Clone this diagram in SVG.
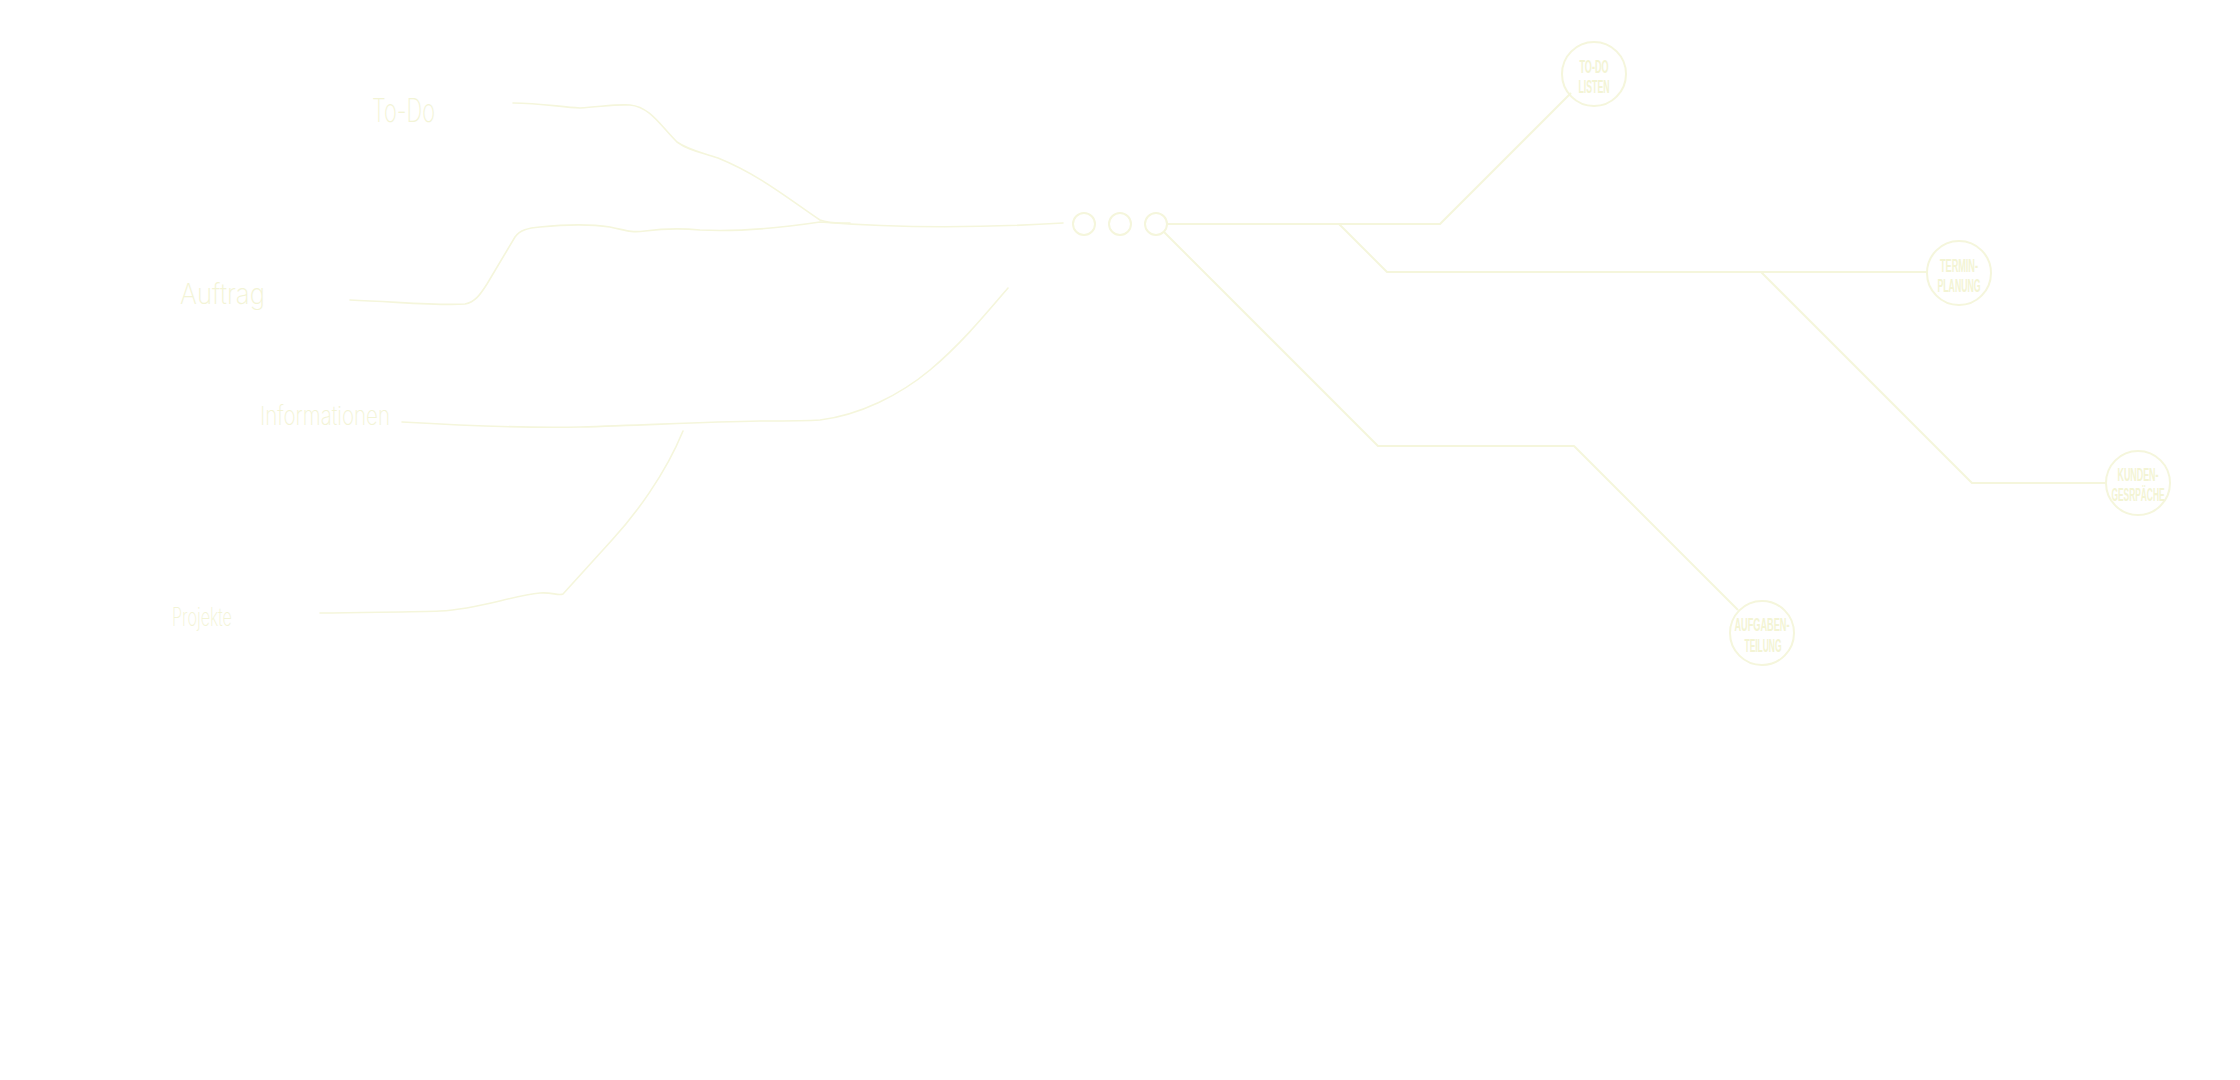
<svg xmlns="http://www.w3.org/2000/svg" width="2240" height="1080" viewBox="0 0 2240 1080">
<style>
.bg{fill:#ffffff}
.ln{fill:none;stroke:#f5f6dc;stroke-width:2;stroke-linejoin:round}
.hand{fill:none;stroke:#f5f6dc;stroke-width:1.6;stroke-linecap:round;stroke-linejoin:round}
.ring{fill:none;stroke:#f5f6dc;stroke-width:2}
.hw{font-family:"Inter","Liberation Sans",sans-serif;font-weight:200;fill:#f3f4d6}
.lab{font-family:"Liberation Sans","DejaVu Sans",sans-serif;font-weight:bold;font-size:19px;fill:#f3f4d4;text-anchor:middle}
</style>
<rect class="bg" x="0" y="0" width="2240" height="1080"/>
<g id="connectors">
  <path class="hand" d="M513,103 C540,103 560,107 580,108 C600,107 615,104 630,105 C650,107 660,125 677,142 C688,150 700,152 718,158 C760,175 790,200 820,220 C830,224 840,223 850,223"/>
  <path class="hand" d="M350,300 C400,302 440,306 465,304 C475,302 480,295 487,284 L515,237 C520,230 528,228 540,227 C560,225 590,224 610,227 C625,230 630,233 645,231 C660,229 680,228 700,230 C740,232 780,228 820,222 C870,226 950,230 1063,223"/>
  <path class="hand" d="M402,422 C470,426 530,428 580,427 C650,425 700,422 760,421 C790,421 805,421 820,420 C860,415 900,395 930,370 C960,345 985,315 1008,288"/>
  <path class="hand" d="M320,613 C380,612 420,612 440,611 C480,609 510,596 540,593 C552,592 558,596 563,594 L612,540 C635,515 665,475 683,431"/>
  <path class="ln" d="M1167,224 H1440 L1571,93"/>
  <path class="ln" d="M1339,224 L1387,272 H1927"/>
  <path class="ln" d="M1761,272 L1972,483 H2106"/>
  <path class="ln" d="M1164,232 L1378,446 H1574 L1738,610"/>
</g>
<g id="hub">
  <circle class="ring" cx="1084" cy="224" r="11"/>
  <circle class="ring" cx="1120" cy="224" r="11"/>
  <circle class="ring" cx="1156" cy="224" r="11"/>
</g>
<g id="todo-text"><text class="hw" x="372" y="122" font-size="32" textLength="63" lengthAdjust="spacingAndGlyphs">To-Do</text></g>
<g id="auftrag-text"><text class="hw" x="180" y="304" font-size="28" textLength="85" lengthAdjust="spacingAndGlyphs">Auftrag</text></g>
<g id="informationen-text"><text class="hw" x="260" y="425" font-size="26" textLength="130" lengthAdjust="spacingAndGlyphs">Informationen</text></g>
<g id="projekte-text"><text class="hw" x="172" y="626" font-size="25" textLength="60" lengthAdjust="spacingAndGlyphs">Projekte</text></g>
<g id="todo-listen">
  <circle class="ring" cx="1594" cy="74" r="32"/>
  <text class="lab" x="1594" y="73" textLength="29" lengthAdjust="spacingAndGlyphs">TO-DO</text>
  <text class="lab" x="1594" y="93" textLength="31" lengthAdjust="spacingAndGlyphs">LISTEN</text>
</g>
<g id="terminplanung">
  <circle class="ring" cx="1959" cy="273" r="32"/>
  <text class="lab" x="1959" y="272" textLength="38" lengthAdjust="spacingAndGlyphs">TERMIN-</text>
  <text class="lab" x="1959" y="292" textLength="43" lengthAdjust="spacingAndGlyphs">PLANUNG</text>
</g>
<g id="kundengespraeche">
  <circle class="ring" cx="2138" cy="483" r="32"/>
  <text class="lab" x="2138" y="481" textLength="41" lengthAdjust="spacingAndGlyphs">KUNDEN-</text>
  <text class="lab" x="2138" y="501" textLength="53" lengthAdjust="spacingAndGlyphs">GESRPÄCHE</text>
</g>
<g id="aufgabenteilung">
  <circle class="ring" cx="1762" cy="633" r="32"/>
  <text class="lab" x="1762" y="631" textLength="55" lengthAdjust="spacingAndGlyphs">AUFGABEN-</text>
  <text class="lab" x="1763" y="652" textLength="37" lengthAdjust="spacingAndGlyphs">TEILUNG</text>
</g>
</svg>
